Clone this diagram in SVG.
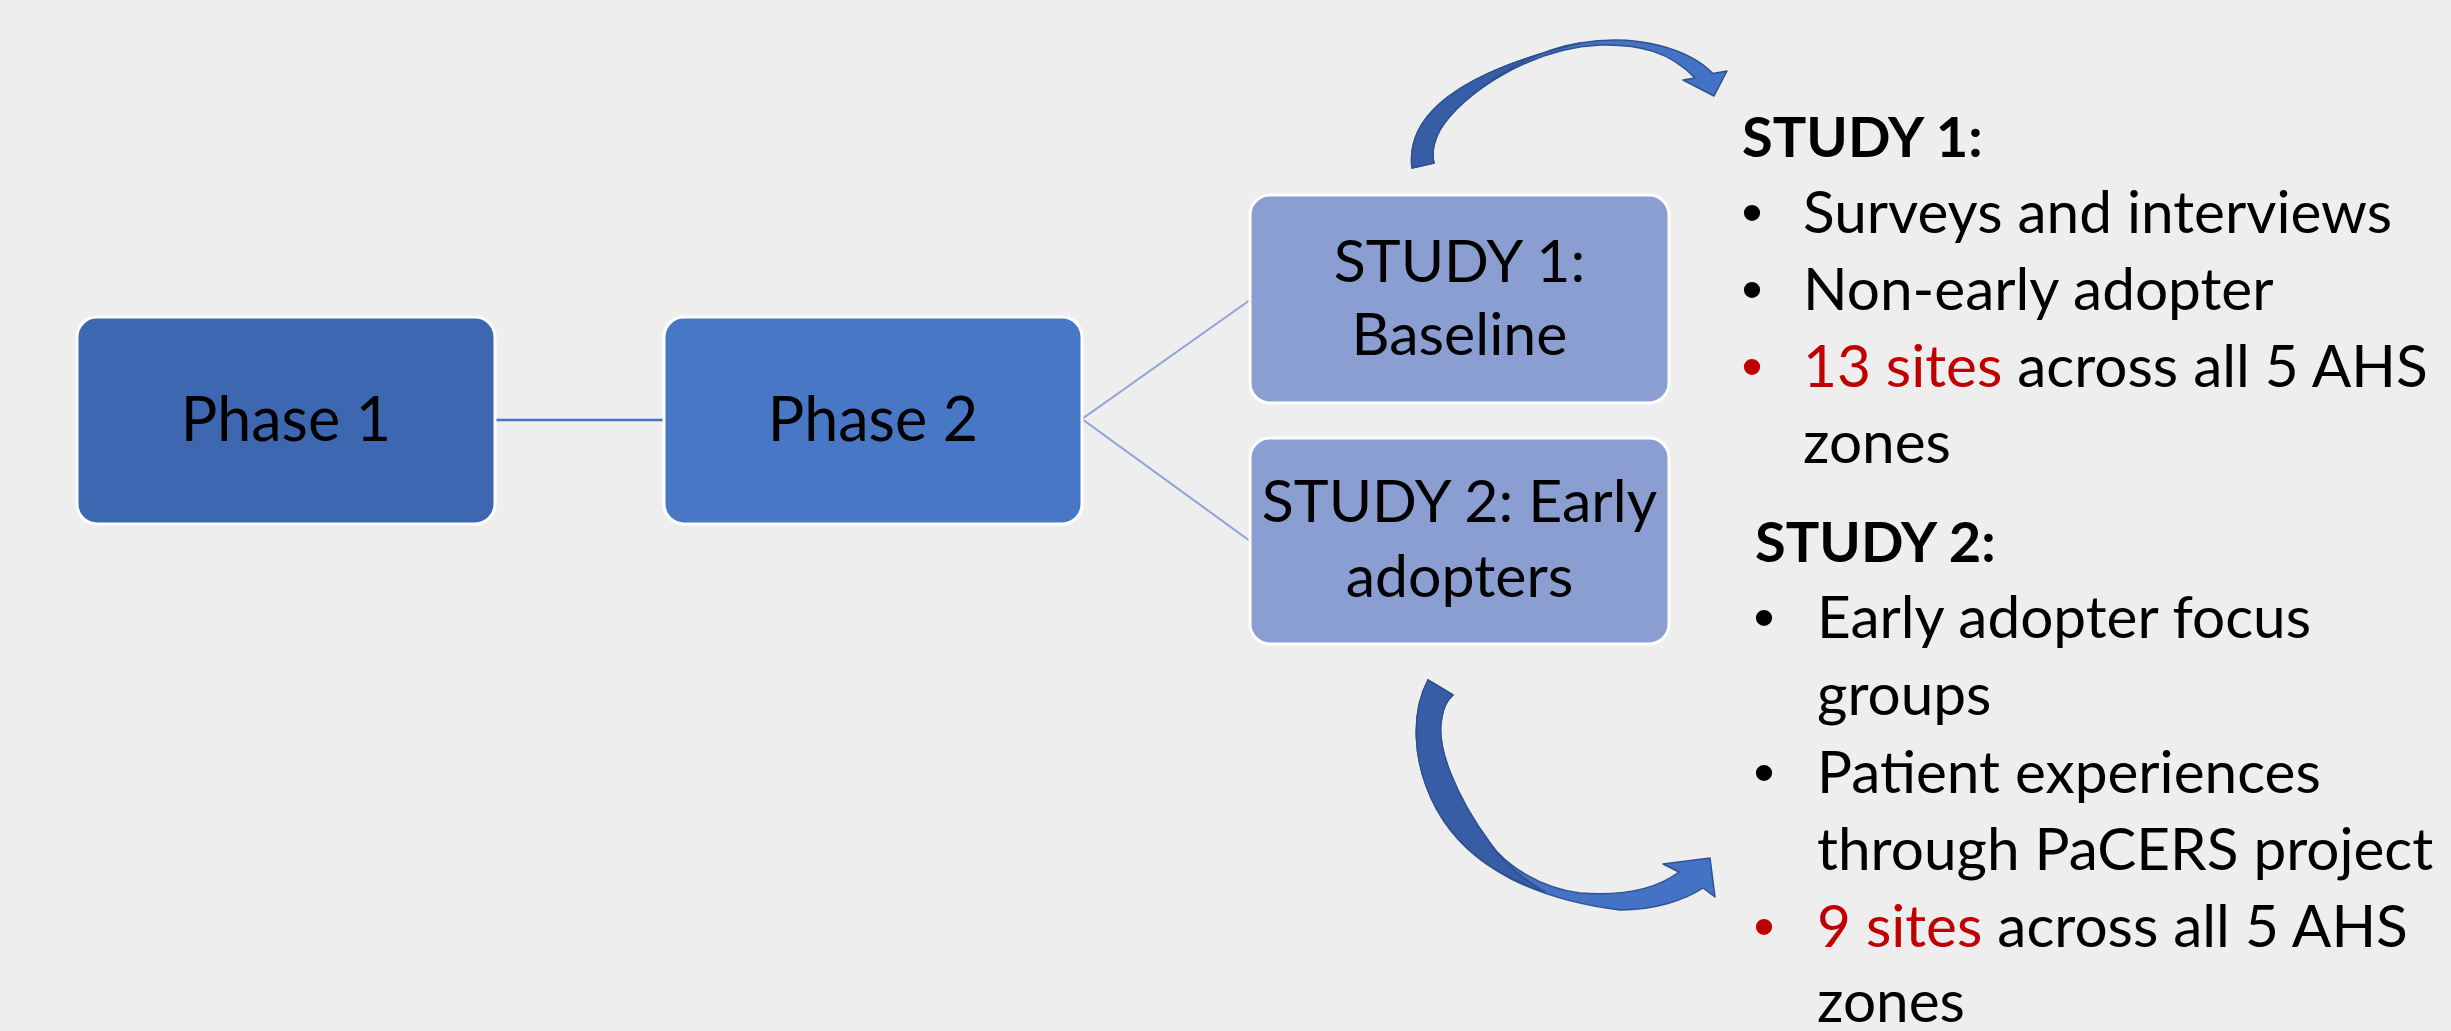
<svg xmlns="http://www.w3.org/2000/svg" width="2451" height="1031" viewBox="0 0 2451 1031">
<style>
.bg{fill:#EEEEEE}
.node{stroke:#FFFFFF;stroke-width:3}
.p1{fill:#3D67B1}
.p2{fill:#4777C5}
.st{fill:#8A9ED1}
.lbl{font-family:Lato,"Liberation Sans",sans-serif;font-size:59px;fill:#000;text-anchor:middle}
.ph{font-size:61px}
.txt{font-family:Lato,"Liberation Sans",sans-serif;font-size:58.5px;fill:#000}
.hd{font-weight:bold;font-size:56px}
.red{fill:#C00000}
.bul{font-family:"Liberation Sans",Arial,sans-serif;font-size:60px;text-anchor:middle}
.c1{stroke:#4A72C0;stroke-width:2.5;fill:none}
.c2{stroke:#8EA3D6;stroke-width:2;fill:none}
.arL{fill:#4472C4;stroke:#2F528F;stroke-width:1.5;stroke-linejoin:round}
.arD{fill:#375DA6;stroke:#2F528F;stroke-width:1.5;stroke-linejoin:round}
</style>
<rect class="bg" x="0" y="0" width="2451" height="1031"/>
<g id="connectors">
<line class="c1" x1="495" y1="420" x2="664" y2="420"/>
<polyline class="c2" points="1250,300 1082,419 1250,541"/>
</g>
<g id="phase1">
<rect class="node p1" x="77" y="317" width="418" height="207" rx="20"/>
<text class="lbl ph" x="286" y="441">Phase 1</text>
</g>
<g id="phase2">
<rect class="node p2" x="664" y="317" width="418" height="207" rx="20"/>
<text class="lbl ph" x="873" y="441">Phase 2</text>
</g>
<g id="study1">
<rect class="node st" x="1250" y="195" width="419" height="208" rx="20"/>
<text class="lbl" x="1459.5" y="282">STUDY 1:</text>
<text class="lbl" x="1459.5" y="355">Baseline</text>
</g>
<g id="study2">
<rect class="node st" x="1250" y="438" width="419" height="206" rx="20"/>
<text class="lbl" x="1459.5" y="522">STUDY 2: Early</text>
<text class="lbl" x="1459.5" y="597">adopters</text>
</g>
<g id="arrow1">
<path class="arL" d="M1412,168 C1405,110 1470,70 1580,43 C1640,33 1690,50 1713,73.5 L1727,71 L1714,96 L1683,80 L1695,78 C1670,52 1640,44 1600,45 C1530,48 1460,95 1440,130 C1432,145 1432,155 1434,163 Z"/>
<path class="arD" d="M1412,168 C1405,110 1470,70 1580,43 C1530,50 1460,95 1440,130 C1432,145 1432,155 1434,163 Z"/>
</g>
<g id="arrow2">
<path class="arL" d="M1428,680 C1412,710 1410,760 1437,810 C1470,870 1540,900 1620,910 C1655,910 1685,900 1703,888 L1715,897 L1710,858 L1663,864 L1679,872 C1655,890 1620,896 1580,893 C1540,888 1505,865 1490,843 C1455,795 1435,745 1442,717 Q1444,703 1453,695 Z"/>
<path class="arD" d="M1428,680 C1412,710 1410,760 1437,810 C1460,850 1495,875 1545,892 C1525,880 1502,862 1490,843 C1455,795 1435,745 1442,717 Q1444,703 1453,695 Z"/>
</g>
<g id="study1-text">
<text class="txt hd" x="1742" y="157">STUDY 1:</text>
<text class="bul" x="1752" y="233">•</text>
<text class="txt" x="1803" y="233">Surveys and interviews</text>
<text class="bul" x="1752" y="310">•</text>
<text class="txt" x="1803" y="310">Non-early adopter</text>
<text class="bul red" x="1752" y="387">•</text>
<text class="txt" x="1803" y="387"><tspan class="red">13 sites</tspan> across all 5 AHS</text>
<text class="txt" x="1803" y="463">zones</text>
</g>
<g id="study2-text">
<text class="txt hd" x="1755" y="562">STUDY 2:</text>
<text class="bul" x="1764" y="638">•</text>
<text class="txt" x="1817" y="638">Early adopter focus</text>
<text class="txt" x="1817" y="715">groups</text>
<text class="bul" x="1764" y="793">•</text>
<text class="txt" x="1817" y="793">Patient experiences</text>
<text class="txt" x="1817" y="870">through PaCERS project</text>
<text class="bul red" x="1764" y="947">•</text>
<text class="txt" x="1817" y="947"><tspan class="red">9 sites</tspan> across all 5 AHS</text>
<text class="txt" x="1817" y="1022">zones</text>
</g>
</svg>
